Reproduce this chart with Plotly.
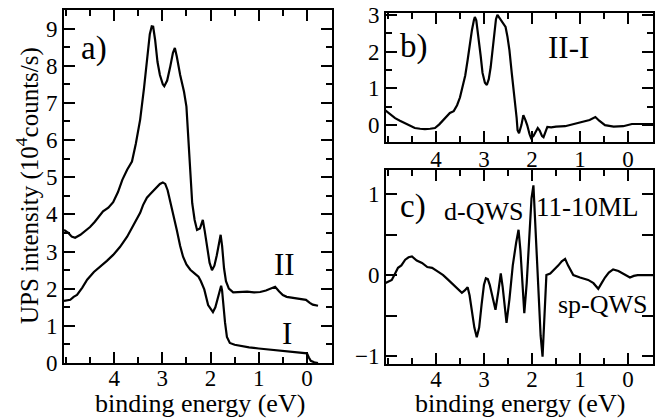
import plotly.graph_objects as go

W, H = 663, 419

# ---------------- data ----------------
# panel a, curve II
a2_e = [5.04, 4.95, 4.88, 4.81, 4.70, 4.60, 4.50, 4.40, 4.30, 4.23, 4.12, 4.02, 3.92, 3.83, 3.73, 3.63,
        3.55, 3.46, 3.38, 3.32, 3.26, 3.22, 3.19, 3.15, 3.10, 3.05, 2.99, 2.96, 2.90, 2.84, 2.78, 2.74,
        2.70, 2.63, 2.55, 2.50, 2.46, 2.42, 2.38, 2.33, 2.28, 2.22, 2.16, 2.12, 2.07, 2.02, 1.97, 1.92,
        1.87, 1.82, 1.79, 1.76, 1.72, 1.68, 1.62, 1.53, 1.40, 1.24, 1.10, 0.97, 0.85, 0.75, 0.66, 0.58,
        0.50, 0.42, 0.25, 0.10, 0.02, -0.06, -0.12, -0.23]
a2_i = [3.58, 3.50, 3.40, 3.37, 3.45, 3.55, 3.66, 3.80, 3.98, 4.08, 4.18, 4.33, 4.60, 4.93, 5.20, 5.42,
        5.90, 6.55, 7.40, 8.17, 8.85, 9.06, 9.05, 8.70, 8.10, 7.75, 7.50, 7.45, 7.60, 7.95, 8.35, 8.48,
        8.25, 7.75, 7.30, 6.90, 6.10, 5.00, 4.30, 3.85, 3.58, 3.62, 3.85, 3.55, 3.10, 2.70, 2.50, 2.62,
        2.90, 3.25, 3.45, 3.15, 2.55, 2.20, 2.00, 1.90, 1.91, 1.92, 1.90, 1.91, 1.95, 2.00, 2.05, 1.93,
        1.83, 1.78, 1.75, 1.72, 1.70, 1.62, 1.57, 1.54]

# panel a, curve I
a1_e = [5.04, 4.91, 4.84, 4.77, 4.66, 4.56, 4.42, 4.29, 4.15, 4.02, 3.88, 3.73, 3.60, 3.46, 3.40, 3.32,
        3.25, 3.15, 3.05, 2.99, 2.94, 2.89, 2.84, 2.77, 2.70, 2.63, 2.57, 2.50, 2.42, 2.32, 2.25, 2.20,
        2.13, 2.05, 1.98, 1.95, 1.90, 1.86, 1.80, 1.78, 1.76, 1.74, 1.70, 1.66, 1.60, 1.50, 1.39, 1.20,
        1.00, 0.70, 0.40, 0.10, 0.00, -0.04, -0.08, -0.15, -0.23]
a1_i = [1.67, 1.70, 1.78, 1.83, 2.03, 2.24, 2.45, 2.59, 2.75, 2.91, 3.12, 3.40, 3.70, 4.04, 4.25, 4.45,
        4.55, 4.70, 4.82, 4.86, 4.82, 4.65, 4.39, 3.95, 3.58, 3.15, 2.86, 2.65, 2.51, 2.40, 2.32, 2.20,
        1.98, 1.56, 1.40, 1.37, 1.50, 1.70, 2.02, 2.08, 1.95, 1.62, 1.10, 0.70, 0.54, 0.49, 0.46, 0.42,
        0.39, 0.35, 0.31, 0.28, 0.26, 0.15, 0.06, 0.02, 0.00]

# panel b, difference II-I
b_e = [5.06, 4.95, 4.85, 4.75, 4.64, 4.54, 4.44, 4.33, 4.23, 4.12, 4.02, 3.93, 3.85, 3.78, 3.71, 3.63,
       3.56, 3.50, 3.44, 3.39, 3.34, 3.29, 3.25, 3.21, 3.19, 3.16, 3.11, 3.07, 3.03, 2.98, 2.94, 2.90,
       2.86, 2.82, 2.78, 2.75, 2.72, 2.68, 2.63, 2.59, 2.55, 2.51, 2.47, 2.42, 2.36, 2.32, 2.30, 2.27,
       2.22, 2.18, 2.14, 2.10, 2.05, 2.02, 1.97, 1.93, 1.88, 1.84, 1.79, 1.76, 1.71, 1.68, 1.60, 1.50,
       1.31, 1.15, 0.95, 0.80, 0.68, 0.60, 0.48, 0.30, 0.10, -0.02, -0.08, -0.25, -0.52]
b_i = [0.41, 0.30, 0.19, 0.12, 0.05, -0.02, -0.08, -0.10, -0.11, -0.10, -0.08, 0.02, 0.14, 0.25, 0.33, 0.38,
       0.54, 0.75, 1.04, 1.35, 1.77, 2.25, 2.59, 2.85, 2.94, 2.85, 2.40, 1.90, 1.42, 1.15, 1.09, 1.25,
       1.58, 2.10, 2.59, 2.88, 3.00, 2.92, 2.80, 2.72, 2.67, 2.40, 2.04, 1.40, 0.76, 0.20, -0.14, -0.22,
       0.00, 0.27, 0.15, 0.00, -0.25, -0.35, -0.30, -0.19, -0.08, -0.15, -0.30, -0.33, -0.15, -0.05, -0.06, -0.04,
       -0.03, 0.02, 0.08, 0.14, 0.22, 0.12, 0.00, -0.04, -0.03, 0.00, 0.03, 0.03, 0.03]

# panel c, 11-10 ML difference
c_e = [5.06, 4.98, 4.92, 4.85, 4.79, 4.72, 4.64, 4.57, 4.50, 4.40, 4.29, 4.18, 4.08, 3.95, 3.85, 3.76,
       3.67, 3.57, 3.46, 3.40, 3.34, 3.30, 3.25, 3.20, 3.15, 3.10, 3.05, 3.00, 2.96, 2.92, 2.88, 2.81,
       2.76, 2.70, 2.65, 2.61, 2.57, 2.53, 2.47, 2.40, 2.33, 2.28, 2.24, 2.20, 2.16, 2.11, 2.06, 2.01,
       1.97, 1.93, 1.87, 1.82, 1.78, 1.74, 1.70, 1.62, 1.55, 1.45, 1.38, 1.31, 1.25, 1.14, 1.00, 0.83,
       0.72, 0.62, 0.55, 0.48, 0.40, 0.31, 0.20, 0.10, -0.04, -0.12, -0.20, -0.52]
c_i = [-0.10, -0.08, -0.06, 0.02, 0.09, 0.12, 0.19, 0.22, 0.23, 0.18, 0.15, 0.10, 0.09, 0.04, 0.00, -0.05,
       -0.10, -0.16, -0.22, -0.19, -0.15, -0.25, -0.46, -0.65, -0.77, -0.65, -0.37, -0.12, -0.04, -0.05, -0.12, -0.30,
       -0.43, -0.20, 0.02, -0.15, -0.40, -0.59, -0.30, 0.12, 0.40, 0.56, 0.30, -0.15, -0.47, -0.10, 0.45, 0.95,
       1.11, 0.60, -0.20, -0.75, -1.01, -0.50, 0.00, 0.02, 0.06, 0.12, 0.17, 0.20, 0.12, 0.00, -0.03, -0.06,
       -0.10, -0.17, -0.10, -0.03, 0.03, 0.07, 0.05, 0.02, -0.03, -0.01, 0.00, 0.00]

x_range = [5.04, -0.52]
x_ticks = [4, 3, 2, 1, 0]
a_yticks = [0, 1, 2, 3, 4, 5, 6, 7, 8, 9]
b_yticks = [0, 1, 2, 3]
c_yticks = [-1, 0, 1]
c_ymajor = [-1, -0.5, 0, 0.5, 1]

# ---------------- layout helpers ----------------
def px_x(p):
    return p / W

def px_y(p):
    return 1 - p / H

FONT = "Liberation Serif"
TICKFONT = dict(family=FONT, size=23, color="black")

def axis(**kw):
    d = dict(showline=True, linecolor="black", linewidth=2, mirror="allticks",
             ticks="inside", ticklen=11, tickwidth=2, tickcolor="black",
             showgrid=False, zeroline=False, tickfont=TICKFONT, automargin=False,
             minor=dict(ticks="inside", ticklen=6, tickwidth=1.5, tickcolor="black", dtick=0.5))
    d.update(kw)
    return d

line = dict(color="black", width=2.2)

fig = go.Figure()
fig.add_trace(go.Scatter(x=a2_e, y=a2_i, mode="lines", line=line, xaxis="x", yaxis="y", showlegend=False))
fig.add_trace(go.Scatter(x=a1_e, y=a1_i, mode="lines", line=line, xaxis="x", yaxis="y", showlegend=False))
fig.add_trace(go.Scatter(x=b_e, y=b_i, mode="lines", line=line, xaxis="x2", yaxis="y2", showlegend=False))
fig.add_trace(go.Scatter(x=c_e, y=c_i, mode="lines", line=line, xaxis="x3", yaxis="y3", showlegend=False))

fig.update_layout(
    width=W, height=H,
    margin=dict(l=0, r=0, t=0, b=0),
    paper_bgcolor="white", plot_bgcolor="white",
    xaxis=axis(domain=[px_x(64), px_x(332)], range=x_range, tickvals=x_ticks, anchor="y",
               ticklabelstandoff=-7),
    yaxis=axis(domain=[px_y(363), px_y(10)], range=[0, 9.5], tickvals=a_yticks, anchor="x"),
    xaxis2=axis(domain=[px_x(386), px_x(653)], range=x_range, tickvals=x_ticks, anchor="y2",
                ticklabelstandoff=-5),
    yaxis2=axis(domain=[px_y(142), px_y(13)], range=[-0.46, 3.05], tickvals=b_yticks, anchor="x2"),
    xaxis3=axis(domain=[px_x(386), px_x(653)], range=x_range, tickvals=x_ticks, anchor="y3",
                ticklabelstandoff=-7),
    yaxis3=axis(domain=[px_y(364), px_y(170)], range=[-1.1, 1.3], tickvals=c_yticks, anchor="x3",
                minor=dict(ticks="inside", ticklen=11, tickwidth=2, tickcolor="black",
                           tickvals=c_ymajor)),
)

def label(text, x, y, size, **kw):
    fig.add_annotation(text=text, x=px_x(x), y=px_y(y), xref="paper", yref="paper",
                       showarrow=False, font=dict(family=FONT, size=size, color="black"),
                       xanchor="center", yanchor="middle", **kw)

label("a)", 94, 48, 33)
label("II", 284, 264, 31)
label("I", 287, 333, 31)
label("b)", 414, 46, 33)
label("II-I", 568, 47, 31)
label("c)", 413, 206, 33)
label("d-QWS", 483, 212, 26)
label("11-10ML", 587, 207, 27)
label("sp-QWS", 603, 304, 26)
label("binding energy (eV)", 200, 403, 26)
label("binding energy (eV)", 520, 403, 26)
label("UPS intensity (10<sup>4</sup>counts/s)", 27, 186, 25, textangle=-90)

fig.write_html("out.html", config={"displayModeBar": False},
               post_script="document.body.style.margin='0';document.body.style.overflow='hidden';")
